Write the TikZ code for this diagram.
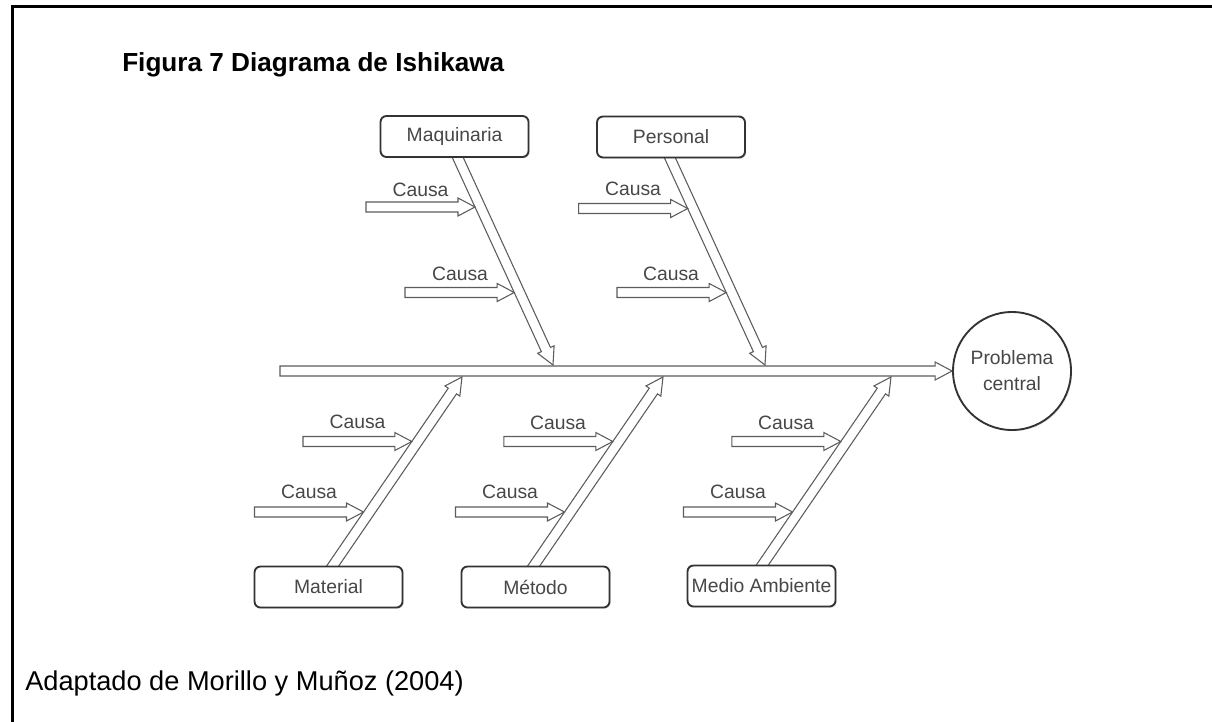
\documentclass[tikz,border=0pt]{standalone}
\usepackage{fontspec}
\setmainfont{Liberation Sans}
\usetikzlibrary{calc,shadows,backgrounds}

\definecolor{inkgray}{HTML}{474747}
\definecolor{linegray}{HTML}{5C5C5C}
\definecolor{boxline}{HTML}{333333}

% hollow block arrow from #1 (base) to #2 (tip)
\newcommand\hollowarrow[2]{%
  \coordinate (hb) at ($(#2)!12.75pt!(#1)$);
  \draw[hollow]
    ($(#1)!3.75pt!90:(#2)$) -- ($(hb)!3.75pt!-90:(#1)$) -- ($(hb)!6.75pt!-90:(#1)$) -- (#2)
    -- ($(hb)!6.75pt!90:(#1)$) -- ($(hb)!3.75pt!90:(#1)$) -- ($(#1)!3.75pt!-90:(#2)$) -- cycle;}

\tikzset{
  hollow/.style={draw=linegray, line width=0.8pt, fill=white, line join=miter},
  catbox/.style={draw=boxline, line width=1.4pt, rounded corners=4.5pt, fill=white,
    minimum width=111pt, minimum height=30.75pt, inner sep=0pt, text=inkgray,
    font=\fontsize{14.5pt}{17pt}\selectfont,
    drop shadow={shadow xshift=0.9pt, shadow yshift=-0.9pt, opacity=0.25}},
  pcircle/.style={circle, draw=boxline, line width=1.4pt, fill=white,
    minimum size=88.5pt, inner sep=0pt, align=center, text=inkgray,
    font=\fontsize{14.5pt}{19.5pt}\selectfont,
    drop shadow={shadow xshift=0.9pt, shadow yshift=-0.9pt, opacity=0.25}},
  causa/.style={anchor=base, inner sep=0pt, text=inkgray,
    font=\fontsize{14.5pt}{17pt}\selectfont},
}

\begin{document}
\begin{tikzpicture}[x=0.75pt, y=-0.75pt]
\useasboundingbox (0,0) rectangle (1212,721);

% frame
\draw[line width=2.25pt, line join=miter] (12,725) -- (12,6) -- (1216,6);

% headings
\node[anchor=base west, inner sep=0pt, font=\bfseries\fontsize{19.6pt}{23pt}\selectfont] (title) at (122,71) {Figura 7 Diagrama de Ishikawa};
\node[anchor=base west, inner sep=0pt, font=\fontsize{20.4pt}{24pt}\selectfont] (src) at (25,690) {Adaptado de Morillo y Muñoz (2004)};

% categories and effect
\node[catbox] (mq) at (454.5,136.5) {Maquinaria};
\node[catbox] (pe) at (671,137) {Personal};
\node[catbox] (mt) at (328.5,587) {Material};
\node[catbox] (me) at (535.5,587) {Método};
\node[catbox] (ma) at (761.5,586) {Medio Ambiente};
\node[pcircle] (pc) at (1012,371) {Problema\\central};

% cause labels
\node[causa] (l-mq1) at (420.5,196) {Causa};
\node[causa] (l-mq2) at (460,280) {Causa};
\node[causa] (l-pe1) at (633,195) {Causa};
\node[causa] (l-pe2) at (671,280) {Causa};
\node[causa] (l-mt1) at (357.5,428) {Causa};
\node[causa] (l-mt2) at (309,498) {Causa};
\node[causa] (l-me1) at (558,429) {Causa};
\node[causa] (l-me2) at (510,498) {Causa};
\node[causa] (l-ma1) at (786,429) {Causa};
\node[causa] (l-ma2) at (738,498) {Causa};

% anchor points of the bones
\coordinate (spine0) at (280,371);
\coordinate (mq-r) at (454.3,150);  \coordinate (mq-t) at (553,365);
\coordinate (pe-r) at (666.3,150);  \coordinate (pe-t) at (765,365);
\coordinate (mt-r) at (326.5,575);  \coordinate (mt-t) at (462,377);
\coordinate (me-r) at (527.5,575);  \coordinate (me-t) at (663,377);
\coordinate (ma-r) at (755.5,575);  \coordinate (ma-t) at (891,377);

% causes: free end and tip on the bone
\coordinate (c-mq1) at (366,207);     \coordinate (t-mq1) at (475,207);
\coordinate (c-mq2) at (405,292.5);   \coordinate (t-mq2) at (514.2,292.5);
\coordinate (c-pe1) at (578.7,208.5); \coordinate (t-pe1) at (687.7,208.5);
\coordinate (c-pe2) at (617,292.5);   \coordinate (t-pe2) at (726.2,292.5);
\coordinate (c-mt1) at (303,441.5);   \coordinate (t-mt1) at (411.8,441.5);
\coordinate (c-mt2) at (254.5,512);   \coordinate (t-mt2) at (363.5,512);
\coordinate (c-me1) at (503.8,441.5); \coordinate (t-me1) at (612.8,441.5);
\coordinate (c-me2) at (455.5,512);   \coordinate (t-me2) at (564.5,512);
\coordinate (c-ma1) at (731.8,441.5); \coordinate (t-ma1) at (840.8,441.5);
\coordinate (c-ma2) at (683.5,512);   \coordinate (t-ma2) at (792.5,512);

\begin{pgfonlayer}{background}
  \hollowarrow{spine0}{pc.west}
  \hollowarrow{mq-r}{mq-t}
  \hollowarrow{pe-r}{pe-t}
  \hollowarrow{mt-r}{mt-t}
  \hollowarrow{me-r}{me-t}
  \hollowarrow{ma-r}{ma-t}
  \foreach \c in {mq1,mq2,pe1,pe2,mt1,mt2,me1,me2,ma1,ma2}
    {\hollowarrow{c-\c}{t-\c}}
\end{pgfonlayer}
\end{tikzpicture}
\end{document}
